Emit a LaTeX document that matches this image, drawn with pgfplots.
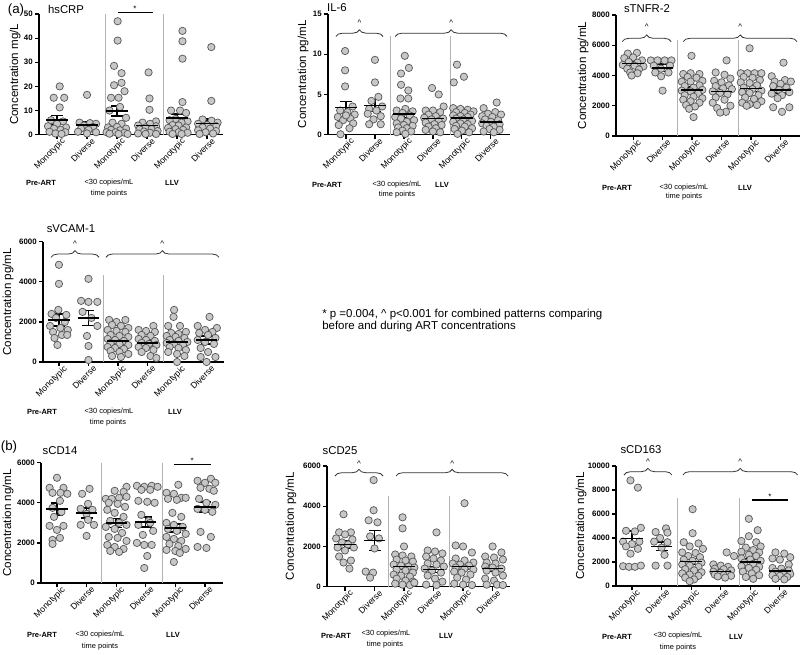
\documentclass[border=0pt]{standalone}
\usepackage{pgfplots}
\pgfplotsset{compat=1.18}
\usepackage{fontspec}
\setmainfont{Liberation Sans}
\usetikzlibrary{decorations.pathreplacing}
\definecolor{dotfill}{gray}{0.78}
\definecolor{dotedge}{gray}{0.35}
\definecolor{sepc}{gray}{0.7}
\tikzset{brc/.style={decorate, decoration={brace, amplitude=5pt}, line width=0.6pt, black!80}}
\pgfplotsset{
 panel/.style={
  scale only axis, clip=false,
  axis x line*=bottom, axis y line*=left,
  axis line style={line width=0.9pt, black},
  ymin=0,
  xtick={0,1,2,3,4,5},
  xticklabels={Monotypic,Diverse,Monotypic,Diverse,Monotypic,Diverse},
  x tick label style={xshift=3pt, yshift=1.2pt, rotate=45, anchor=north east, font=\fontsize{6.5}{7.5}\selectfont, inner sep=0pt},
  y tick label style={font=\bfseries\fontsize{5.9}{6.5}\selectfont, inner sep=1.5pt},
  /pgf/number format/assume math mode=true,
  /pgf/number format/set thousands separator={},
  scaled y ticks=false,
  tick align=outside, major tick length=3pt,
  tick style={line width=0.9pt, black},
  every axis y label/.style={rotate=90, anchor=center, font=\fontsize{8.7}{10}\selectfont},
 },
 dots/.style={only marks, mark=*, mark size=2.75pt, mark options={fill=dotfill, draw=dotedge, line width=0.55pt}},
 means/.style={only marks, black, mark=-, mark size=8pt, mark options={line width=1.1pt},
   error bars/.cd, y dir=both, y explicit, error mark=-,
   error bar style={line width=1.1pt, black},
   error mark options={rotate=90, mark size=4.5pt, line width=1.1pt, black}},
}
\newcommand{\caret}{\textasciicircum}
\begin{document}
\begin{tikzpicture}
\path[use as bounding box] (0,0) rectangle (600pt,-490.5pt);

% ---------------- hsCRP
\begin{axis}[panel, at={(29.25pt,-101pt)}, anchor=south west, width=138pt, height=90.5pt,
  xmin=-0.6, xmax=5.53, ymax=50, ytick={0,10,20,30,40,50},
  ylabel={Concentration mg/L}, ylabel style={at={(axis description cs:-0.13,0.5)}}]
\draw[sepc, line width=0.8pt] (axis cs:1.6,0) -- (axis cs:1.6,50);
\draw[sepc, line width=0.8pt] (axis cs:3.55,0) -- (axis cs:3.55,50);
\addplot[dots] coordinates {(0.09,20) (-0.11,15.3) (0.24,15.3) (0.09,11.3) (-0.2,6) (0.2,5.5) (0,4.5) (-0.3,3.5) (0.3,3) (-0.1,2.5) (0.12,2) (-0.25,1.2) (0.28,1) (-0.05,0.5) (0.15,0.3)};
\addplot[dots] coordinates {(1.0,16.5) (0.75,5) (1.1,4.8) (1.3,4.5) (0.9,3.8) (1.2,3.2) (0.8,2.5) (1.05,2) (0.7,1.2) (1.3,1) (1.0,0.5)};
\addplot[dots] coordinates {(2.02,47) (2.02,39) (1.9,28.5) (2.15,25.5) (2.15,21.5) (1.9,20.5) (2.25,18) (1.8,15.3) (2.05,15.3) (2.1,11.5) (1.75,10) (2.3,7) (1.85,5) (2.15,4.5) (1.7,3) (2.0,3.2) (2.3,2.5) (1.8,2) (2.1,1.8) (1.65,1) (1.95,1) (2.25,0.8) (1.75,0.4) (2.05,0.3) (2.35,0.3)};
\addplot[dots] coordinates {(3.05,25.8) (3.08,15) (3.08,10.3) (3.3,5.5) (2.85,5) (3.1,4.5) (2.7,3.8) (3.3,3.5) (2.95,3) (2.75,2.2) (3.15,2.3) (3.35,1.5) (2.9,1.3) (3.1,0.8) (2.7,0.5) (3.3,0.3) (2.95,0.3)};
\addplot[dots] coordinates {(4.18,43) (4.18,38.7) (4.18,31.5) (4.18,13.5) (3.8,10) (4.1,10) (4.3,9) (3.95,6.5) (3.75,6) (4.35,5.5) (4.15,5) (3.85,4) (4.05,3.8) (4.3,3) (3.7,2.8) (3.95,2.3) (4.2,2) (3.75,1.2) (4.05,1) (4.35,0.8) (3.85,0.3) (4.15,0.3)};
\addplot[dots] coordinates {(5.14,36.3) (5.14,14) (4.85,6.3) (5.15,5.8) (5.35,5) (4.7,4.5) (5.0,4) (5.3,3.5) (4.85,3) (5.1,2.5) (4.7,1.8) (5.3,1.5) (4.95,1) (5.2,0.5) (4.75,0.3)};
\addplot[means] coordinates {(0,6.1) +- (0,1.8) (1,4.0) +- (0,1.2) (2,9.8) +- (0,2.1) (3,3.8) +- (0,1.3) (4,6.9) +- (0,1.6) (5,4.7) +- (0,1.9)};
\draw[line width=0.9pt] (axis cs:2.03,50.6) -- (axis cs:3.2,50.6);
\node[anchor=south, inner sep=0.5pt, font=\fontsize{6}{6}\selectfont] at (axis cs:2.6,50.6) {*};
\end{axis}

% ---------------- IL-6
\begin{axis}[panel, at={(246pt,-101pt)}, anchor=south west, width=136.5pt, height=90.5pt,
  xmin=-0.62, xmax=5.66, ymax=15, ytick={0,5,10,15},
  ylabel={Concentration pg/mL}, ylabel style={at={(axis description cs:-0.137,0.5)}}]
\draw[sepc, line width=0.8pt] (axis cs:1.53,0) -- (axis cs:1.53,12.3);
\draw[sepc, line width=0.8pt] (axis cs:3.6,0) -- (axis cs:3.6,12.3);
\addplot[dots] coordinates {(-0.03,10.4) (-0.03,8.0) (-0.03,6.0) (0.23,3.5) (-0.2,3.0) (0.05,2.8) (0.3,2.5) (-0.28,2.2) (0.15,2.0) (-0.1,1.8) (0.25,1.4) (-0.25,1.2) (0.12,0.8) (-0.19,0.05) (0.0,2.4)};
\addplot[dots] coordinates {(1.0,9.3) (1.0,6.5) (1.12,4.7) (0.88,4.2) (1.25,3.5) (0.8,3.2) (1.05,3.0) (0.75,2.6) (1.2,2.3) (0.95,1.9) (0.8,1.3) (1.2,1.3)};
\addplot[dots] coordinates {(2.03,9.8) (2.17,8.3) (1.9,7.6) (1.9,6.2) (2.15,5.5) (1.88,4.5) (2.15,4.5) (2.05,3.2) (1.75,3.0) (2.3,2.9) (1.95,2.7) (2.2,2.4) (1.7,2.2) (1.9,2.0) (2.35,1.8) (2.1,1.6) (1.75,1.4) (2.0,1.2) (2.3,1.1) (1.8,0.9) (2.1,0.8) (1.95,0.5) (2.25,0.4) (1.75,0.3) (2.05,0.1)};
\addplot[dots] coordinates {(2.97,5.8) (3.2,5.0) (3.37,3.5) (2.75,3.0) (3.0,3.0) (3.25,2.8) (2.85,2.5) (3.1,2.3) (2.7,2.1) (3.35,2.0) (2.95,1.9) (3.2,1.7) (2.75,1.5) (3.05,1.3) (3.3,1.2) (2.85,1.0) (3.1,0.8) (2.75,0.6) (3.0,0.4) (3.25,0.3)};
\addplot[dots] coordinates {(3.83,8.7) (4.07,7.2) (3.72,6.5) (3.7,3.3) (3.95,3.2) (4.2,3.1) (4.4,2.9) (3.8,2.8) (4.1,2.7) (4.3,2.5) (3.7,2.4) (3.95,2.3) (4.2,2.2) (3.8,2.0) (4.05,1.9) (4.35,1.7) (3.7,1.6) (3.95,1.4) (4.2,1.3) (3.8,1.1) (4.1,1.0) (4.35,0.8) (3.75,0.7) (4.0,0.5) (4.25,0.3) (3.85,0.1)};
\addplot[dots] coordinates {(5.2,4.0) (4.75,3.3) (5.15,2.8) (4.9,2.6) (5.35,2.5) (4.7,2.3) (5.05,2.2) (4.8,1.9) (5.25,1.8) (5.0,1.6) (4.7,1.4) (5.3,1.3) (4.85,1.1) (5.1,1.0) (4.95,0.7) (5.3,0.6) (4.75,0.4) (5.1,0.3)};
\addplot[means] coordinates {(0,3.35) +- (0,0.75) (1,3.65) +- (0,0.75) (2,2.57) +- (0,0.45) (3,2.0) +- (0,0.35) (4,2.07) +- (0,0.35) (5,1.57) +- (0,0.3)};
\draw[brc] (axis cs:-0.35,12.2) -- (axis cs:1.28,12.2);
\draw[brc] (axis cs:1.7,12.2) -- (axis cs:5.56,12.2);
\node[anchor=south, inner sep=0.5pt, font=\fontsize{6}{6}\selectfont] at (axis cs:0.465,13.4) {\caret};
\node[anchor=south, inner sep=0.5pt, font=\fontsize{6}{6}\selectfont] at (axis cs:3.63,13.4) {\caret};
\end{axis}

% ---------------- sTNFR-2
\begin{axis}[panel, at={(462pt,-102pt)}, anchor=south west, width=138pt, height=90.75pt,
  xmin=-0.58, xmax=5.66, ymax=8000, ytick={0,2000,4000,6000,8000},
  ylabel={Concentration pg/mL}, ylabel style={at={(axis description cs:-0.179,0.5)}}]
\draw[sepc, line width=0.8pt] (axis cs:1.52,0) -- (axis cs:1.52,6350);
\draw[sepc, line width=0.8pt] (axis cs:3.56,0) -- (axis cs:3.56,6350);
\addplot[dots] coordinates {(-0.18,5450) (0.13,5500) (-0.3,5150) (0,5200) (0.3,5000) (-0.15,4900) (0.15,4850) (-0.35,4700) (0.05,4650) (0.35,4600) (-0.2,4450) (0.2,4400) (-0.1,4200) (0.15,4150) (-0.05,4000)};
\addplot[dots] coordinates {(0.6,5000) (0.83,5000) (1.07,5000) (1.3,5000) (0.7,4650) (1.25,4650) (0.95,4450) (0.75,4200) (1.2,4200) (0.95,3950) (1.0,3000)};
\addplot[dots] coordinates {(1.98,5300) (1.7,4100) (1.95,4150) (2.25,4100) (1.85,3900) (2.15,3850) (2.35,3650) (1.65,3600) (1.95,3600) (2.25,3350) (1.75,3300) (2.05,3200) (2.35,3050) (1.65,3000) (1.95,2950) (2.2,2800) (1.75,2700) (2.05,2600) (2.35,2500) (1.7,2400) (1.95,2300) (2.25,2200) (1.8,2050) (2.1,1950) (1.9,1800) (2.05,1250)};
\addplot[dots] coordinates {(3.17,5000) (2.8,4200) (3.1,4050) (3.3,3800) (2.75,3650) (3.0,3550) (3.25,3350) (2.8,3300) (3.05,3150) (3.35,3100) (2.7,2950) (2.95,2850) (3.2,2750) (2.8,2550) (3.1,2400) (2.7,2200) (3.3,2000) (2.85,1850) (3.15,1600) (2.95,1550)};
\addplot[dots] coordinates {(3.95,5800) (3.65,4150) (3.88,4150) (4.12,4150) (4.35,4150) (3.75,3900) (4.05,3850) (4.3,3700) (3.65,3550) (3.95,3500) (4.2,3350) (3.75,3200) (4.05,3100) (4.35,3000) (3.7,2900) (3.95,2850) (4.25,2700) (3.8,2550) (4.1,2450) (4.35,2300) (3.7,2200) (3.95,2100) (4.2,2050) (3.85,2000)};
\addplot[dots] coordinates {(5.1,4850) (4.7,3950) (5.15,3700) (4.8,3600) (5.35,3600) (5.0,3450) (4.75,3300) (5.2,3200) (4.95,3050) (5.3,2900) (4.7,2800) (5.05,2700) (4.75,1900) (5.3,1900) (5.05,1600) (4.9,2500)};
\addplot[means] coordinates {(0,4800) +- (0,150) (1,4500) +- (0,250) (2,3050) +- (0,200) (3,2950) +- (0,200) (4,3150) +- (0,200) (5,3050) +- (0,220)};
\draw[brc] (axis cs:-0.37,6240) -- (axis cs:1.29,6240);
\draw[brc] (axis cs:1.7,6240) -- (axis cs:5.56,6240);
\node[anchor=south, inner sep=0.5pt, font=\fontsize{6}{6}\selectfont] at (axis cs:0.46,6950) {\caret};
\node[anchor=south, inner sep=0.5pt, font=\fontsize{6}{6}\selectfont] at (axis cs:3.63,6950) {\caret};
\end{axis}

% ---------------- sVCAM-1
\begin{axis}[panel, at={(32.25pt,-271.5pt)}, anchor=south west, width=135.75pt, height=90.2pt,
  xmin=-0.54, xmax=5.59, ymax=6000, ytick={0,2000,4000,6000},
  ylabel={Concentration pg/mL}, ylabel style={at={(axis description cs:-0.193,0.5)}}]
\draw[sepc, line width=0.8pt] (axis cs:1.5,0) -- (axis cs:1.5,4340);
\draw[sepc, line width=0.8pt] (axis cs:3.55,0) -- (axis cs:3.55,4340);
\addplot[dots] coordinates {(0,4850) (0,3900) (-0.02,2600) (-0.25,2400) (0.25,2350) (-0.1,2200) (0.2,2000) (-0.3,1800) (0.05,1700) (0.3,1600) (-0.2,1500) (0.1,1350) (-0.15,1200) (0.28,1350) (-0.05,850)};
\addplot[dots] coordinates {(1.0,4150) (0.75,3050) (1.0,3000) (1.3,3000) (0.8,2500) (1.1,2200) (1.3,1800) (0.95,1300) (1.0,800) (1.0,100)};
\addplot[dots] coordinates {(1.7,2100) (1.95,2000) (2.25,2100) (1.8,1850) (2.1,1800) (2.35,1700) (1.65,1600) (1.95,1550) (2.25,1500) (1.75,1350) (2.05,1300) (2.35,1250) (1.65,1150) (1.9,1100) (2.2,1050) (1.75,950) (2.05,900) (2.35,850) (1.65,750) (1.9,700) (2.2,650) (1.75,550) (2.05,500) (2.35,400) (1.8,300) (2.1,250)};
\addplot[dots] coordinates {(3.2,1800) (2.7,1600) (2.95,1550) (3.25,1500) (2.8,1350) (3.1,1300) (2.7,1150) (2.95,1100) (3.25,1050) (2.8,950) (3.05,900) (3.3,850) (2.7,750) (2.95,700) (3.2,600) (2.8,500) (3.1,300) (3.3,200)};
\addplot[dots] coordinates {(3.9,2600) (3.88,2250) (3.7,1800) (4.1,1800) (4.3,1500) (3.8,1450) (4.05,1400) (3.65,1300) (3.95,1250) (4.25,1200) (3.75,1100) (4.05,1050) (4.35,1000) (3.65,950) (3.9,900) (4.2,850) (3.75,750) (4.05,700) (4.3,600) (3.7,500) (4.0,400) (4.25,300) (4.0,0)};
\addplot[dots] coordinates {(5.1,2250) (4.7,1800) (5.35,1700) (4.95,1600) (5.2,1500) (4.75,1450) (5.05,1350) (5.3,1200) (4.7,1100) (4.95,1000) (5.25,900) (4.8,700) (5.05,500) (5.3,250) (4.8,250) (5.0,0)};
\addplot[means] coordinates {(0,2100) +- (0,300) (1,2200) +- (0,370) (2,1050) +- (0,150) (3,950) +- (0,120) (4,1000) +- (0,150) (5,1100) +- (0,200)};
\draw[brc] (axis cs:-0.27,5220) -- (axis cs:1.36,5220);
\draw[brc] (axis cs:1.59,5220) -- (axis cs:5.42,5220);
\node[anchor=south, inner sep=0.5pt, font=\fontsize{6}{6}\selectfont] at (axis cs:0.545,5700) {\caret};
\node[anchor=south, inner sep=0.5pt, font=\fontsize{6}{6}\selectfont] at (axis cs:3.5,5700) {\caret};
\end{axis}

% ---------------- sCD14
\begin{axis}[panel, at={(30.75pt,-437.25pt)}, anchor=south west, width=136.5pt, height=90.2pt,
  xmin=-0.54, xmax=5.61, ymax=6000, ytick={0,2000,4000,6000},
  ylabel={Concentration ng/mL}, ylabel style={at={(axis description cs:-0.181,0.5)}}]
\draw[sepc, line width=0.8pt] (axis cs:1.52,0) -- (axis cs:1.52,6000);
\draw[sepc, line width=0.8pt] (axis cs:3.58,0) -- (axis cs:3.58,6000);
\addplot[dots] coordinates {(0,5250) (-0.25,4750) (0.22,4750) (-0.15,4500) (0.12,4500) (0.35,4450) (0.1,4100) (-0.15,3750) (0.15,3550) (-0.1,3300) (-0.25,2850) (0.22,2850) (0,2650) (0.1,2250) (-0.15,2150) (-0.15,1950)};
\addplot[dots] coordinates {(1.1,4700) (0.85,4450) (1.05,3950) (0.8,3700) (1.2,3650) (1.0,3450) (0.8,2900) (1.25,2900) (1.0,2350) (1.05,3150)};
\addplot[dots] coordinates {(2.35,4800) (1.95,4600) (2.25,4550) (1.65,4200) (1.85,4200) (2.1,4250) (2.35,4300) (1.75,4000) (2.05,3950) (2.3,3800) (1.7,3650) (1.95,3500) (2.25,3300) (1.8,3100) (2.1,3000) (2.35,2900) (1.65,2800) (1.95,2700) (2.2,2500) (1.75,2300) (2.05,2250) (2.35,2100) (1.7,1900) (1.95,1800) (2.25,1700) (1.8,1600) (2.1,1550)};
\addplot[dots] coordinates {(2.7,4850) (2.95,4800) (3.2,4850) (3.4,4800) (2.85,4650) (3.15,4650) (2.75,4100) (3.05,4050) (3.3,4000) (2.85,3400) (3.1,3100) (2.75,2900) (3.25,2600) (2.9,2400) (2.7,2000) (2.95,1900) (3.2,1900) (3.05,1350) (2.95,750) (3.15,3000)};
\addplot[dots] coordinates {(4.1,4900) (3.7,4500) (3.95,4450) (4.2,4250) (4.35,4250) (3.75,4200) (4.05,4150) (3.9,3500) (4.2,3300) (3.7,3000) (3.95,2900) (4.25,2800) (3.75,2700) (4.05,2600) (4.35,2450) (3.7,2300) (3.95,2200) (4.2,2100) (3.8,1950) (4.1,1850) (4.35,1700) (3.7,1650) (4.0,1600) (4.15,1500) (3.95,1050)};
\addplot[dots] coordinates {(5.2,5200) (4.75,5100) (5.0,5000) (5.35,5000) (4.85,4750) (5.15,4700) (5.3,4600) (4.8,4200) (5.05,4000) (5.35,3900) (4.75,3700) (5.0,3650) (5.25,3550) (4.85,2550) (5.2,2300) (4.75,1800) (5.05,1750)};
\addplot[means] coordinates {(0,3700) +- (0,300) (1,3500) +- (0,250) (2,3000) +- (0,220) (3,3050) +- (0,250) (4,2750) +- (0,200) (5,3800) +- (0,250)};
\draw[line width=0.9pt] (axis cs:3.95,5930) -- (axis cs:5.2,5930);
\node[anchor=south, inner sep=0.5pt, font=\fontsize{6}{6}\selectfont] at (axis cs:4.57,5930) {*};
\end{axis}

% ---------------- sCD25
\begin{axis}[panel, at={(245.25pt,-440pt)}, anchor=south west, width=137.25pt, height=90.5pt,
  xmin=-0.61, xmax=5.59, ymax=6000, ytick={0,2000,4000,6000},
  ylabel={Concentration pg/mL}, ylabel style={at={(axis description cs:-0.197,0.5)}}]
\draw[sepc, line width=0.8pt] (axis cs:1.48,0) -- (axis cs:1.48,4510);
\draw[sepc, line width=0.8pt] (axis cs:3.53,0) -- (axis cs:3.53,4510);
\addplot[dots] coordinates {(-0.05,3600) (-0.2,2700) (0.2,2700) (0,2600) (-0.3,2400) (0.25,2350) (-0.1,2200) (0.1,2100) (-0.25,1950) (0.3,1950) (0,1800) (-0.2,1500) (0.2,1300) (-0.05,1200) (0.15,900)};
\addplot[dots] coordinates {(0.97,5300) (0.97,3800) (0.8,3300) (1.1,3200) (0.85,2500) (1.15,2400) (1.0,1900) (0.7,750) (0.95,700) (0.85,450)};
\addplot[dots] coordinates {(1.95,3450) (1.95,2900) (2.0,2000) (1.7,1600) (1.95,1550) (2.25,1500) (1.75,1350) (2.05,1300) (2.3,1250) (1.65,1100) (1.9,1050) (2.15,1000) (2.35,950) (1.75,850) (2.05,800) (2.3,700) (1.65,600) (1.9,550) (2.2,500) (1.75,400) (2.05,300) (2.3,250) (1.7,150) (1.95,100) (2.2,80) (2.35,200)};
\addplot[dots] coordinates {(3.1,2700) (2.8,1800) (3.05,1750) (3.3,1650) (2.75,1500) (3.0,1400) (3.25,1300) (2.8,1150) (3.1,1100) (3.35,1000) (2.7,900) (2.95,800) (3.25,700) (2.8,550) (3.05,400) (3.3,250) (2.75,100) (3.1,80)};
\addplot[dots] coordinates {(4.05,4150) (3.75,2050) (4.0,2000) (4.3,1700) (3.75,1400) (4.05,1300) (4.35,1200) (3.65,1150) (3.9,1100) (4.2,1050) (3.75,950) (4.05,900) (4.35,850) (3.7,750) (3.95,700) (4.25,600) (3.8,450) (4.1,350) (3.7,150) (4.0,100) (4.3,80)};
\addplot[dots] coordinates {(5.0,2000) (5.3,1700) (4.75,1500) (5.05,1450) (5.35,1350) (4.8,1200) (5.1,1150) (4.75,1000) (5.0,950) (5.3,900) (4.8,800) (5.1,700) (5.35,550) (4.75,400) (5.05,300) (4.8,100) (5.15,100) (5.35,80)};
\addplot[means] coordinates {(0,2100) +- (0,200) (1,2300) +- (0,500) (2,1000) +- (0,150) (3,850) +- (0,150) (4,1000) +- (0,150) (5,900) +- (0,150)};
\draw[brc] (axis cs:-0.34,5500) -- (axis cs:1.29,5500);
\draw[brc] (axis cs:1.73,5500) -- (axis cs:5.53,5500);
\node[anchor=south, inner sep=0.5pt, font=\fontsize{6}{6}\selectfont] at (axis cs:0.475,5950) {\caret};
\node[anchor=south, inner sep=0.5pt, font=\fontsize{6}{6}\selectfont] at (axis cs:3.63,5950) {\caret};
\end{axis}

% ---------------- sCD163
\begin{axis}[panel, at={(462pt,-439.5pt)}, anchor=south west, width=138pt, height=90pt,
  xmin=-0.54, xmax=5.68, ymax=10000, ytick={0,2000,4000,6000,8000,10000},
  ylabel={Concentration ng/mL}, ylabel style={at={(axis description cs:-0.19,0.5)}}]
\draw[sepc, line width=0.8pt] (axis cs:1.55,0) -- (axis cs:1.55,7300);
\draw[sepc, line width=0.8pt] (axis cs:3.65,0) -- (axis cs:3.65,7300);
\addplot[dots] coordinates {(-0.05,8800) (0.2,8200) (0.3,4850) (-0.2,4600) (0.1,4550) (-0.3,3700) (0.25,3700) (0,3500) (-0.2,3300) (0.2,3100) (-0.05,2700) (-0.3,1650) (-0.1,1600) (0.1,1600) (0.3,1700)};
\addplot[dots] coordinates {(1.15,4800) (0.8,4500) (1.2,4450) (0.95,4000) (0.75,3700) (1.2,3650) (1.0,3200) (1.1,2600) (0.8,1700) (1.2,1700)};
\addplot[dots] coordinates {(2.05,6400) (2.05,4400) (1.75,3650) (2.25,3550) (2.4,3100) (1.95,3300) (1.7,2800) (2.15,2750) (1.9,2500) (2.3,2400) (1.75,2200) (2.05,2100) (2.35,1950) (1.7,1800) (1.95,1700) (2.25,1600) (1.8,1400) (2.1,1300) (2.35,1150) (1.7,1050) (1.95,950) (2.25,850) (1.8,700) (2.1,550) (1.95,400)};
\addplot[dots] coordinates {(3.2,2800) (3.45,2500) (2.75,1800) (3.0,1700) (3.25,1600) (2.8,1450) (3.1,1400) (3.35,1300) (2.75,1200) (3.0,1100) (3.25,1050) (2.8,950) (3.1,900) (3.35,850) (2.9,800) (3.15,700)};
\addplot[dots] coordinates {(3.95,5600) (4.25,4650) (3.95,4150) (3.7,3750) (4.2,3650) (4.35,3300) (3.85,3200) (4.1,3000) (3.7,2850) (4.3,2800) (3.95,2600) (4.2,2500) (3.7,2300) (4.0,2200) (4.35,2100) (3.8,1950) (4.1,1850) (3.7,1650) (4.3,1600) (3.95,1500) (4.2,1350) (3.75,1200) (4.05,1050) (4.3,900) (3.85,750) (4.1,600)};
\addplot[dots] coordinates {(4.85,2800) (5.15,2700) (5.35,2400) (4.75,2300) (5.0,2200) (5.3,1800) (4.75,1500) (5.05,1450) (5.3,1300) (4.85,1200) (5.1,1100) (5.35,1000) (4.75,900) (5.0,850) (5.25,750) (4.85,600) (5.15,550)};
\addplot[means] coordinates {(0,3950) +- (0,650) (1,3300) +- (0,350) (2,2050) +- (0,250) (3,1200) +- (0,150) (4,2000) +- (0,250) (5,1250) +- (0,220)};
\draw[line width=0.9pt] (axis cs:4.05,7170) -- (axis cs:5.27,7170);
\node[anchor=south, inner sep=0.5pt, font=\fontsize{6}{6}\selectfont] at (axis cs:4.66,7170) {*};
\draw[brc] (axis cs:-0.27,9250) -- (axis cs:1.35,9250);
\draw[brc] (axis cs:1.72,9250) -- (axis cs:5.6,9250);
\node[anchor=south, inner sep=0.5pt, font=\fontsize{6}{6}\selectfont] at (axis cs:0.54,10050) {\caret};
\node[anchor=south, inner sep=0.5pt, font=\fontsize{6}{6}\selectfont] at (axis cs:3.66,10050) {\caret};
\end{axis}

% ---------------- annotations (pixel coordinates)
\begin{scope}[x=0.75pt, y=-0.75pt]
\tikzset{ttl/.style={font=\fontsize{8.5}{10}\selectfont, inner sep=0pt},
         grpb/.style={font=\bfseries\fontsize{5.6}{6.5}\selectfont, inner sep=0pt},
         grp/.style={font=\fontsize{5.6}{6.5}\selectfont, inner sep=0pt}}
\node[font=\fontsize{10}{12}\selectfont, inner sep=0pt] at (16,10) {(a)};
\node[font=\fontsize{10}{12}\selectfont, inner sep=0pt] at (9,447) {(b)};
\node[ttl] at (66,9) {hsCRP};
\node[ttl] at (337,8) {IL-6};
\node[ttl] at (647,9) {sTNFR-2};
\node[ttl] at (71,229) {sVCAM-1};
\node[ttl] at (60,451) {sCD14};
\node[ttl] at (340,451) {sCD25};
\node[ttl] at (641,450) {sCD163};
% group labels
\node[grpb] at (41,183) {Pre-ART};
\node[grp] at (109,183) {<30 copies/mL};
\node[grp] at (109,194) {time points};
\node[grpb] at (172,183) {LLV};
\node[grpb] at (327,185) {Pre-ART};
\node[grp] at (397,185) {<30 copies/mL};
\node[grp] at (397,195) {time points};
\node[grpb] at (442,185) {LLV};
\node[grpb] at (617,188) {Pre-ART};
\node[grp] at (684,188) {<30 copies/mL};
\node[grp] at (684,197) {time points};
\node[grpb] at (745,188) {LLV};
\node[grpb] at (42,412) {Pre-ART};
\node[grp] at (109,412) {<30 copies/mL};
\node[grp] at (108,423) {time points};
\node[grpb] at (175,412) {LLV};
\node[grpb] at (42,635) {Pre-ART};
\node[grp] at (100,635) {<30 copies/mL};
\node[grp] at (100,647) {time points};
\node[grpb] at (173,635) {LLV};
\node[grpb] at (336,636) {Pre-ART};
\node[grp] at (386,634) {<30 copies/mL};
\node[grp] at (385,645) {time points};
\node[grpb] at (446,636) {LLV};
\node[grpb] at (617,637) {Pre-ART};
\node[grp] at (678,636) {<30 copies/mL};
\node[grp] at (678,648) {time points};
\node[grpb] at (736,637) {LLV};
\node[anchor=west, align=left, inner sep=0pt, font=\fontsize{8.6}{9}\selectfont] at (322,320.5) {* p =0.004, \caret{} p<0.001 for combined patterns comparing\\before and during ART concentrations};
\end{scope}
\end{tikzpicture}
\end{document}
